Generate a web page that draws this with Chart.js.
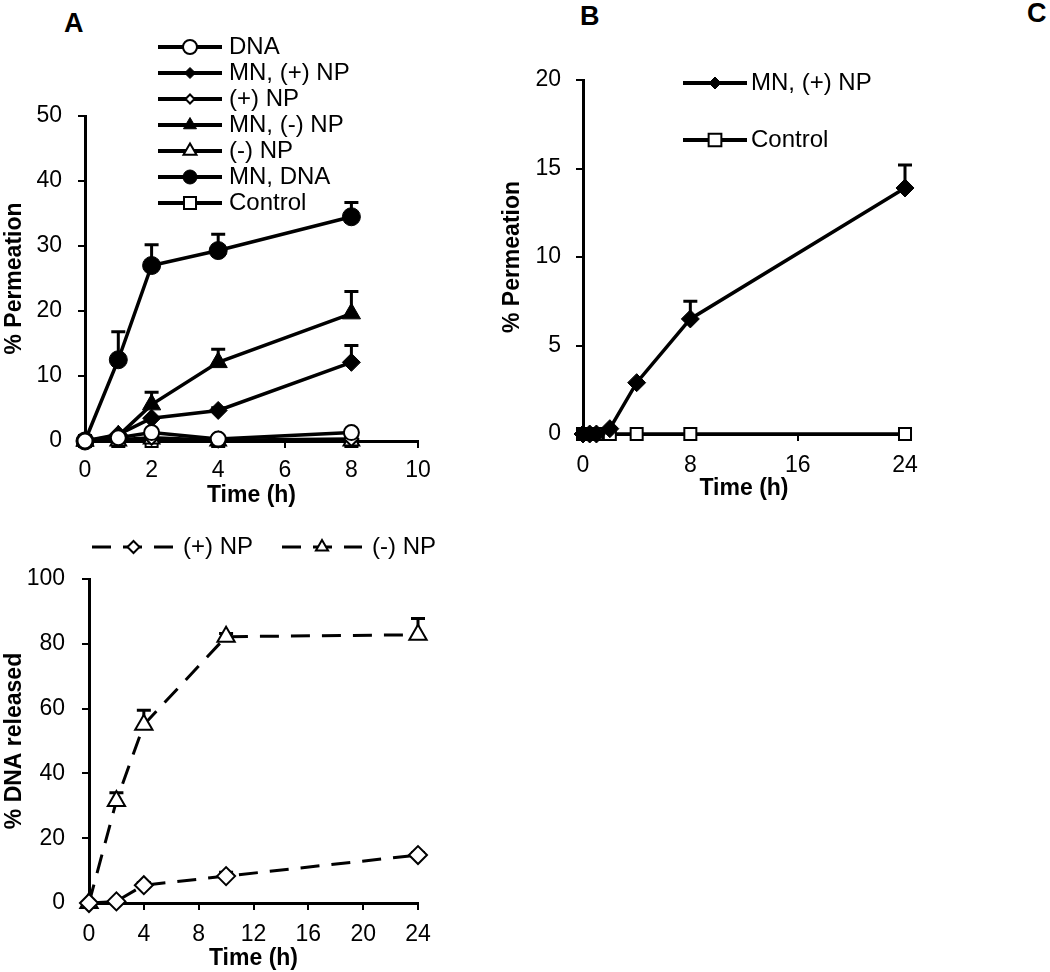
<!DOCTYPE html>
<html>
<head>
<meta charset="utf-8">
<script src="https://cdn.jsdelivr.net/npm/chart.js@4.4.1/dist/chart.umd.min.js"></script>
<style>
body { margin: 0; background: #fff; width: 1050px; height: 972px; position: relative; overflow: hidden; font-family: 'Liberation Sans', Arial, sans-serif; }
canvas { position: absolute; }
.panel { position: absolute; font-weight: bold; font-size: 27px; line-height: 27px; color: #000; }
</style>
</head>
<body>
<div class="panel" style="left:64px;top:10px">A</div>
<div class="panel" style="left:580px;top:3px">B</div>
<div class="panel" style="left:1027px;top:0px">C</div>
<canvas id="chartA" width="450" height="510" style="left:0;top:0"></canvas>
<canvas id="chartB" width="500" height="510" style="left:460px;top:0"></canvas>
<canvas id="chartC" width="450" height="462" style="left:0;top:510px"></canvas>
<script>
const FONT = "'Liberation Sans', Arial, sans-serif";

// panel A - % permeation, 0-8 h
const timeA = [0, 1, 2, 4, 8];
const dnaA = [0, 0.5, 1.3, 0.3, 1.3];
const mnPosA = [0, 1.0, 3.5, 4.7, 12.1];
const mnPosErrA = [0, 0, 0, 0.4, 2.6];
const posNpA = [0, 0.2, 0.5, 0.1, 0.3];
const mnNegA = [0, 0.8, 5.6, 12.1, 19.6];
const mnNegErrA = [0, 0, 1.9, 2.0, 3.4];
const negNpA = [0, 0, 0.3, 0, 0];
const mnDnaA = [0, 12.5, 27.0, 29.3, 34.5];
const mnDnaErrA = [0, 4.3, 3.2, 2.5, 2.2];
const controlA = [0, 0, 0, 0, 0];
const xTicksA = [0, 2, 4, 6, 8, 10];
const yTicksA = [0, 10, 20, 30, 40, 50];

// panel B - % permeation, 0-24 h
const timeB = [0, 0.5, 1, 2, 4, 8, 24];
const mnPosB = [0, 0, 0, 0.3, 2.9, 6.5, 13.9];
const mnPosErrB = [0, 0, 0, 0, 0, 1.0, 1.3];
const controlB = [0, 0, 0, 0, 0, 0, 0];
const xTicksB = [0, 8, 16, 24];
const yTicksB = [0, 5, 10, 15, 20];

// bottom panel - % DNA released
const timeC = [0, 2, 4, 10, 24];
const posNpC = [0, 0.5, 5.5, 8.3, 14.8];
const posNpErrC = [0, 0, 0.8, 1.2, 0.8];
const negNpC = [0, 31.5, 55, 82.2, 82.8];
const negNpErrC = [0, 2.5, 4.5, 1.0, 5.0];
const xTicksC = [0, 4, 8, 12, 16, 20, 24];
const yTicksC = [0, 20, 40, 60, 80, 100];

function pts(xs, ys) {
    return xs.map((x, i) => ({ x: x, y: ys[i] }));
}

function series(label, xs, ys, err, shape, filled, r, lw, dash) {
    return {
        label: label,
        data: pts(xs, ys),
        errUp: err,
        borderColor: '#000',
        borderWidth: lw,
        borderDash: dash || [],
        pointStyle: shape,
        pointRadius: r,
        pointHoverRadius: r,
        pointBackgroundColor: filled ? '#000' : '#fff',
        pointBorderColor: '#000',
        pointBorderWidth: filled ? 1 : 2,
        tension: 0,
        clip: false
    };
}

const errorBars = {
    id: 'errorBars',
    beforeDatasetsDraw(chart) {
        const ctx = chart.ctx;
        const ys = chart.scales.y;
        chart.data.datasets.forEach((ds, i) => {
            if (!ds.errUp) return;
            chart.getDatasetMeta(i).data.forEach((pt, j) => {
                const e = ds.errUp[j];
                if (!e) return;
                const top = ys.getPixelForValue(ds.data[j].y + e);
                ctx.save();
                ctx.strokeStyle = '#000';
                ctx.lineWidth = 3;
                ctx.beginPath();
                ctx.moveTo(pt.x, pt.y);
                ctx.lineTo(pt.x, top);
                ctx.moveTo(pt.x - 7, top);
                ctx.lineTo(pt.x + 7, top);
                ctx.stroke();
                ctx.restore();
            });
        });
    }
};

const lineLegend = {
    id: 'lineLegend',
    afterDraw(chart, args, opts) {
        if (!opts.slots) return;
        const ctx = chart.ctx;
        chart.data.datasets.forEach((ds, i) => {
            const s = opts.slots[i];
            if (!s) return;
            ctx.save();
            ctx.strokeStyle = '#000';
            ctx.lineWidth = opts.lineWidth;
            ctx.setLineDash(ds.borderDash || []);
            ctx.beginPath();
            ctx.moveTo(s.x, s.y);
            ctx.lineTo(s.x + s.len, s.y);
            ctx.stroke();
            ctx.setLineDash([]);
            ctx.fillStyle = ds.pointBackgroundColor;
            ctx.lineWidth = ds.pointBorderWidth;
            Chart.helpers.drawPoint(ctx, { pointStyle: ds.pointStyle, radius: s.r, borderWidth: ds.pointBorderWidth, rotation: 0 }, s.x + s.len / 2, s.y);
            ctx.fillStyle = '#000';
            ctx.font = opts.font;
            ctx.textBaseline = 'middle';
            ctx.fillText(ds.label, s.x + s.len + s.gap, s.y);
            ctx.restore();
        });
    }
};

function noPad(s) {
    s.paddingLeft = 0; s.paddingRight = 0; s.paddingTop = 0; s.paddingBottom = 0;
}

function xAxis(min, max, ticks, h, labelPad, titlePad) {
    return {
        type: 'linear', min: min, max: max,
        afterBuildTicks: s => { s.ticks = ticks.map(v => ({ value: v })); },
        afterFit: s => { s.height = h; noPad(s); },
        grid: { drawOnChartArea: false, color: '#000', lineWidth: 2, tickLength: 7 },
        border: { color: '#000', width: 3 },
        ticks: { color: '#000', font: { size: 23, family: FONT }, padding: labelPad, maxRotation: 0, autoSkip: false },
        title: { display: true, text: 'Time (h)', color: '#000', font: { size: 23, weight: 'bold', family: FONT }, padding: { top: 0, bottom: titlePad } }
    };
}

function yAxis(min, max, ticks, w, labelPad, title, titlePad) {
    return {
        type: 'linear', min: min, max: max,
        afterBuildTicks: s => { s.ticks = ticks.map(v => ({ value: v })); },
        afterFit: s => { s.width = w; noPad(s); },
        grid: { drawOnChartArea: false, color: '#000', lineWidth: 2, tickLength: 7 },
        border: { color: '#000', width: 3 },
        ticks: { color: '#000', font: { size: 23, family: FONT }, padding: labelPad, autoSkip: false },
        title: { display: true, text: title, color: '#000', font: { size: 23, weight: 'bold', family: FONT }, padding: { top: titlePad, bottom: 0 } }
    };
}

function baseOptions(pad, scales, legendOpts) {
    return {
        responsive: false,
        animation: false,
        layout: { padding: pad },
        scales: scales,
        plugins: {
            legend: { display: false },
            tooltip: { enabled: false },
            lineLegend: legendOpts
        }
    };
}

function slotsAt(x, y0, dy, len, gap, radii) {
    return radii.map((r, i) => ({ x: x, y: y0 + dy * i, len: len, gap: gap, r: r }));
}

new Chart(document.getElementById('chartA'), {
    type: 'line',
    data: {
        datasets: [
            series('DNA', timeA, dnaA, null, 'circle', false, 7.5, 3.5),
            series('MN, (+) NP', timeA, mnPosA, mnPosErrA, 'rectRot', true, 9, 3.5),
            series('(+) NP', timeA, posNpA, null, 'rectRot', false, 7, 3.5),
            series('MN, (-) NP', timeA, mnNegA, mnNegErrA, 'triangle', true, 10.5, 3.5),
            series('(-) NP', timeA, negNpA, null, 'triangle', false, 9, 3.5),
            series('MN, DNA', timeA, mnDnaA, mnDnaErrA, 'circle', true, 9, 3.5),
            series('Control', timeA, controlA, null, 'rect', false, 8.5, 3.5)
        ]
    },
    options: baseOptions(
        { left: 0, right: 32, top: 116, bottom: 0 },
        {
            x: xAxis(0, 10, xTicksA, 69, 9, 1),
            y: yAxis(0, 50, yTicksA, 85, 16, '% Permeation', 1)
        },
        { slots: slotsAt(158, 47, 26, 64, 7, [7, 5.5, 4.5, 7.5, 7.5, 7, 8.5]), lineWidth: 4, font: '24px ' + FONT }
    ),
    plugins: [errorBars, lineLegend]
});

new Chart(document.getElementById('chartB'), {
    type: 'line',
    data: {
        datasets: [
            series('MN, (+) NP', timeB, mnPosB, mnPosErrB, 'rectRot', true, 9, 3.5),
            series('Control', timeB, controlB, null, 'rect', false, 8.5, 3.5)
        ]
    },
    options: baseOptions(
        { left: 0, right: 55, top: 80, bottom: 0 },
        {
            x: xAxis(0, 24, xTicksB, 76, 11, 8),
            y: yAxis(0, 20, yTicksB, 123, 15, '% Permeation', 39)
        },
        { slots: slotsAt(223, 83, 57, 64, 4, [6, 9]), lineWidth: 4, font: '24px ' + FONT }
    ),
    plugins: [errorBars, lineLegend]
});

new Chart(document.getElementById('chartC'), {
    type: 'line',
    data: {
        datasets: [
            series('(+) NP', timeC, posNpC, posNpErrC, 'rectRot', false, 9, 3, [19, 12]),
            series('(-) NP', timeC, negNpC, negNpErrC, 'triangle', false, 10, 3, [19, 12])
        ]
    },
    options: baseOptions(
        { left: 0, right: 32, top: 69, bottom: 0 },
        {
            x: xAxis(0, 24, xTicksC, 69, 11, 0),
            y: yAxis(0, 100, yTicksC, 89, 17, '% DNA released', 1)
        },
        {
            slots: [
                { x: 92, y: 37, len: 83, gap: 8, r: 6 },
                { x: 282, y: 37, len: 80, gap: 10, r: 7 }
            ],
            lineWidth: 3, font: '24px ' + FONT
        }
    ),
    plugins: [errorBars, lineLegend]
});
</script>
</body>
</html>
